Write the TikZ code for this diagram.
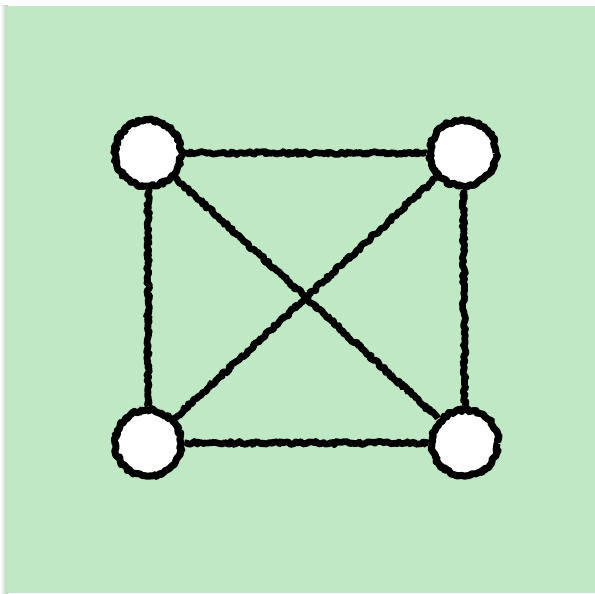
\documentclass[tikz,border=0pt]{standalone}
\usetikzlibrary{decorations.pathmorphing}
\definecolor{notegreen}{RGB}{192,232,197}
\definecolor{noteshade}{RGB}{170,205,175}
\tikzset{
  rough/.style={decorate,decoration={random steps,segment length=1.3pt,amplitude=0.9pt},line join=round},
  vertex/.style={circle,fill=white,draw=black,line width=4pt,minimum size=1.32cm,inner sep=0pt,rough},
  edge/.style={draw=black,line width=3.8pt,rough}
}
\begin{document}
\begin{tikzpicture}
\useasboundingbox (0,0) rectangle (11.9,11.86);
\fill[white] (0,0) rectangle (11.9,11.86);
% sticky note
\shade[left color=white,right color=noteshade] (0,0) rectangle (0.16,11.74);
\fill[notegreen] (0.14,0) rectangle (11.9,11.74);
\node[vertex] (a) at (2.96,8.8) {};
\node[vertex] (b) at (9.26,8.8) {};
\node[vertex] (c) at (2.96,3.0) {};
\node[vertex] (d) at (9.3,3.0) {};
\path[edge] (a) -- (b);
\path[edge] (c) -- (d);
\path[edge] (a) -- (c);
\path[edge] (b) -- (d);
\path[edge] (a) -- (d);
\path[edge] (b) -- (c);
\end{tikzpicture}
\end{document}
